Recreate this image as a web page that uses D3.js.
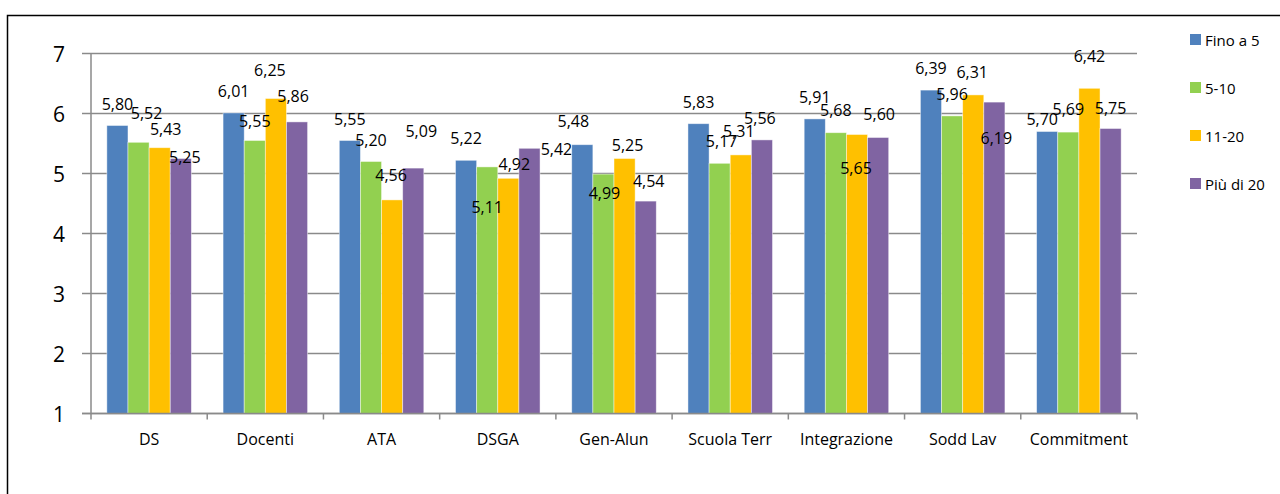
<!DOCTYPE html>
<html>
<head>
<meta charset="utf-8">
<script src="https://cdn.jsdelivr.net/npm/d3@7"></script>
<style>
  html, body { margin: 0; padding: 0; background: #fff; }
  svg { display: block; font-family: "Open Sans", sans-serif; }
</style>
</head>
<body>
<svg id="chart" width="1280" height="494"></svg>
<script>
// ---- data ----
const categories = ["DS", "Docenti", "ATA", "DSGA", "Gen-Alun", "Scuola Terr", "Integrazione", "Sodd Lav", "Commitment"];
const seriesNames = ["Fino a 5", "5-10", "11-20", "Più di 20"];
const fino5   = [5.80, 6.01, 5.55, 5.22, 5.48, 5.83, 5.91, 6.39, 5.70];
const da5a10  = [5.52, 5.55, 5.20, 5.11, 4.99, 5.17, 5.68, 5.96, 5.69];
const da11a20 = [5.43, 6.25, 4.56, 4.92, 5.25, 5.31, 5.65, 6.31, 6.42];
const oltre20 = [5.25, 5.86, 5.09, 5.42, 4.54, 5.56, 5.60, 6.19, 5.75];
const yTicks = [1, 2, 3, 4, 5, 6, 7];
const seriesValues = [fino5, da5a10, da11a20, oltre20];

// ---- layout / style (kept apart from data) ----
const colors = ["#4F81BD", "#92D050", "#FFC000", "#8064A2"];
// label nudges [dx, dy] per category x series, relative to default spot above the bar
const labelNudge = [
  [[0,0],[8,-7],[6,3],[4,20]],
  [[0,0],[0,2],[-6,-7],[-4,-4]],
  [[0,0],[0,0],[-1,-3],[8,-15]],
  [[0,0],[0,62],[6,8],[27,23]],
  [[-9,-2],[1,41],[3,8],[3,2]],
  [[0,0],[2,0],[-2,-2],[-2,0]],
  [[0,0],[0,-1],[-1,55],[1,-2]],
  [[0,0],[0,0],[-1,-1],[2,58]],
  [[-5,9],[0,-1],[0,-10],[0,1]]
];

const svg = d3.select("#chart");

// outer frame
svg.append("rect")
  .attr("x", 7.5).attr("y", 15.5)
  .attr("width", 1300).attr("height", 500)
  .attr("fill", "none").attr("stroke", "#000").attr("stroke-width", 1.5);

const x0 = d3.scaleBand().domain(categories).range([91, 1137])
  .paddingInner(1.5 / 5.5).paddingOuter(0.75 / 5.5);
const x1 = d3.scaleBand().domain(d3.range(seriesNames.length)).range([0, x0.bandwidth()]).padding(0);
const y = d3.scaleLinear().domain([1, 7]).range([413.5, 53.5]);

// gridlines + y axis ticks
const gridG = svg.append("g");
gridG.selectAll("line.grid").data(yTicks).join("line")
  .attr("class", "grid")
  .attr("x1", 82).attr("x2", 1137)
  .attr("y1", d => y(d)).attr("y2", d => y(d))
  .attr("stroke", "#8a8a8a").attr("stroke-width", 1.5);

// y axis line
svg.append("line")
  .attr("x1", 91).attr("x2", 91).attr("y1", y(7)).attr("y2", y(1))
  .attr("stroke", "#8a8a8a").attr("stroke-width", 1.5);

// y tick labels
svg.append("g").selectAll("text").data(yTicks).join("text")
  .attr("x", 65).attr("y", d => y(d))
  .attr("text-anchor", "end").attr("dominant-baseline", "central")
  .attr("font-size", 21).attr("fill", "#000")
  .text(d => d);

// bars
const groups = svg.append("g").selectAll("g").data(categories).join("g")
  .attr("transform", c => `translate(${x0(c)},0)`);

groups.selectAll("rect").data((c, i) => seriesValues.map((s, j) => ({ j, v: s[i] })))
  .join("rect")
  .attr("x", d => x1(d.j))
  .attr("y", d => y(d.v))
  .attr("width", x1.bandwidth())
  .attr("height", d => y(1) - y(d.v))
  .attr("fill", d => colors[d.j])
  .attr("stroke", "#ffffff").attr("stroke-opacity", 0.55).attr("stroke-width", 0.8);

// x axis line + ticks at category boundaries
svg.append("line")
  .attr("x1", 82).attr("x2", 1137).attr("y1", y(1)).attr("y2", y(1))
  .attr("stroke", "#8a8a8a").attr("stroke-width", 1.5);
const step = x0.step();
const bounds = d3.range(categories.length + 1).map(k => 91 + k * step);
svg.append("g").selectAll("line").data(bounds).join("line")
  .attr("x1", d => d).attr("x2", d => d)
  .attr("y1", y(1)).attr("y2", y(1) + 6)
  .attr("stroke", "#8a8a8a").attr("stroke-width", 1.5);

// category labels
svg.append("g").selectAll("text").data(categories).join("text")
  .attr("x", c => x0(c) + x0.bandwidth() / 2)
  .attr("y", 439)
  .attr("text-anchor", "middle").attr("dominant-baseline", "central")
  .attr("font-size", 16).attr("fill", "#000")
  .text(c => c);

// data labels
const fmt = v => v.toFixed(2).replace(".", ",");
groups.selectAll("text").data((c, i) => seriesValues.map((s, j) => ({ i, j, v: s[i] })))
  .join("text")
  .attr("x", d => x1(d.j) + x1.bandwidth() / 2 + labelNudge[d.i][d.j][0])
  .attr("y", d => y(d.v) - 22 + labelNudge[d.i][d.j][1])
  .attr("text-anchor", "middle").attr("dominant-baseline", "central")
  .attr("font-size", 16).attr("fill", "#000")
  .text(d => fmt(d.v));

// legend
const legend = svg.append("g").selectAll("g").data(seriesNames).join("g")
  .attr("transform", (d, i) => `translate(1190, ${39.5 + i * 48})`);
legend.append("rect")
  .attr("x", 0).attr("y", -5.5).attr("width", 11).attr("height", 11)
  .attr("fill", (d, i) => colors[i]);
legend.append("text")
  .attr("x", 15).attr("y", 0)
  .attr("dominant-baseline", "central")
  .attr("font-size", 15).attr("fill", "#000")
  .text(d => d);
</script>
</body>
</html>
